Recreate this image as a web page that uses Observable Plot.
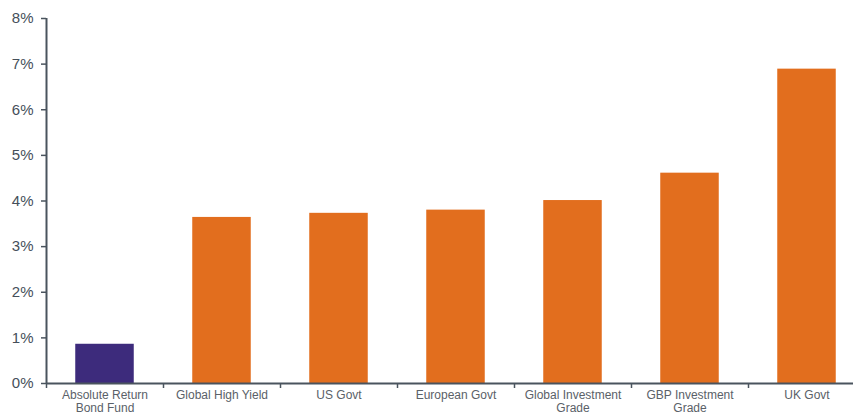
<!DOCTYPE html>
<html>
<head>
<meta charset="utf-8">
<script src="https://cdn.jsdelivr.net/npm/d3@7"></script>
<script src="https://cdn.jsdelivr.net/npm/@observablehq/plot@0.6"></script>
<style>
  html, body { margin: 0; padding: 0; background: #fff; overflow: hidden; }
  #chart svg { display: block; }
</style>
</head>
<body>
<div id="chart"></div>
<script>
const categories = [
  "Absolute Return\nBond Fund",
  "Global High Yield",
  "US Govt",
  "European Govt",
  "Global Investment\nGrade",
  "GBP Investment\nGrade",
  "UK Govt"
];
const values = [0.86, 3.64, 3.73, 3.80, 4.01, 4.61, 6.89];
const groups = ["fund", "index", "index", "index", "index", "index", "index"];
const yTicks = [0, 1, 2, 3, 4, 5, 6, 7, 8];

const data = categories.map((c, i) => ({ i, c, v: values[i], g: groups[i] }));

const axisColor = "#4a545e";
const textColor = "#454f5a";

const chart = Plot.plot({
  width: 853,
  height: 416,
  marginTop: 18,
  marginBottom: 33,
  marginLeft: 46,
  marginRight: 0,
  style: { fontFamily: "Liberation Sans, Arial, sans-serif", background: "#fff", overflow: "hidden" },
  x: { type: "linear", domain: [0, categories.length], range: [46, 865] },
  y: { domain: [0, 8] },
  color: { domain: ["fund", "index"], range: ["#3d2b7c", "#e26e1e"] },
  marks: [
    Plot.rectY(data, { x1: d => d.i + 0.25, x2: d => d.i + 0.75, y: "v", fill: "g" }),
    Plot.axisY({
      ticks: yTicks,
      tickFormat: d => d + "%",
      tickSize: 5,
      tickPadding: 8,
      fontSize: 15,
      color: textColor,
      stroke: axisColor,
      strokeWidth: 1.5,
      label: null
    }),
    Plot.axisX({
      ticks: d3.range(categories.length + 1),
      tickFormat: () => "",
      tickSize: 5,
      stroke: axisColor,
      strokeWidth: 1.5,
      label: null
    }),
    Plot.axisX({
      ticks: d3.range(categories.length).map(i => i + 0.5),
      tickFormat: d => categories[Math.floor(d)],
      tickSize: 0,
      tickPadding: 6,
      fontSize: 12,
      lineHeight: 1.1,
      color: "#5a6168",
      label: null
    }),
    Plot.ruleX([0], { y1: 0, y2: 8, stroke: axisColor, strokeWidth: 2 }),
    Plot.ruleY([0], { stroke: axisColor, strokeWidth: 2 })
  ]
});
document.getElementById("chart").appendChild(chart);
</script>
</body>
</html>
